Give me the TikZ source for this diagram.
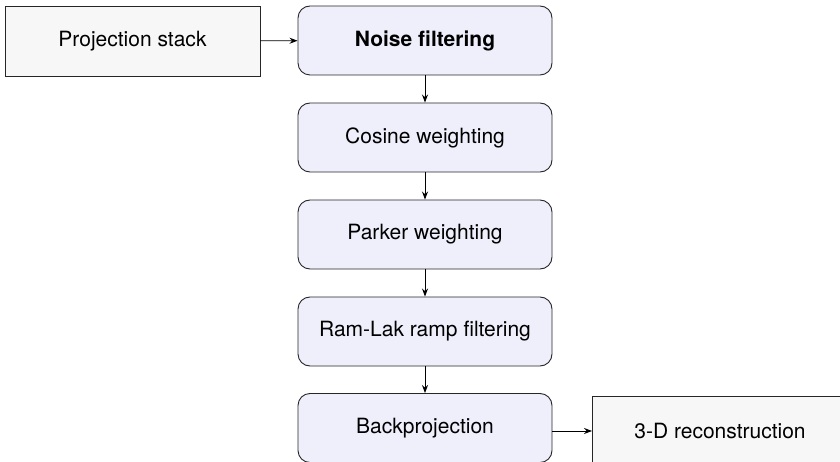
\documentclass[tikz,border=0pt]{standalone}
\usepackage{fontspec}
\setmainfont{TeX Gyre Heros}
\usetikzlibrary{arrows.meta}
\definecolor{stepfill}{HTML}{EFEFFC}
\definecolor{iofill}{HTML}{F7F7F7}
\tikzset{
  stepbox/.style={draw=black!85, fill=stepfill, rounded corners=12pt, minimum width=254pt, minimum height=69pt, line width=0.9pt, font=\fontsize{21}{25}\selectfont},
  iobox/.style={draw=black!85, fill=iofill, minimum width=255pt, minimum height=70pt, line width=0.9pt, font=\fontsize{21}{25}\selectfont},
  link/.style={-{Stealth[length=8pt,width=6pt]}, line width=0.9pt}
}
\begin{document}
\begin{tikzpicture}[x=1pt,y=-1pt]
\useasboundingbox (0,0) rectangle (840,462);
\clip (0,0) rectangle (840,462);
\node[iobox] (ps) at (132.5,41) {Projection stack};
\node[stepbox] (nf) at (425,40.5) {\bfseries Noise filtering};
\node[stepbox] (cw) at (425,137.5) {Cosine weighting};
\node[stepbox] (pw) at (425,234.5) {Parker weighting};
\node[stepbox] (rl) at (425,331.5) {Ram-Lak ramp filtering};
\node[stepbox] (bp) at (425,428) {Backprojection};
\node[iobox] (rec) at (720,431) {3-D reconstruction};
\draw[link] (ps) -- (nf);
\draw[link] (nf) -- (cw);
\draw[link] (cw) -- (pw);
\draw[link] (pw) -- (rl);
\draw[link] (rl) -- (bp);
\draw[link] (bp.east |- rec.west) -- (rec.west);
\end{tikzpicture}
\end{document}
